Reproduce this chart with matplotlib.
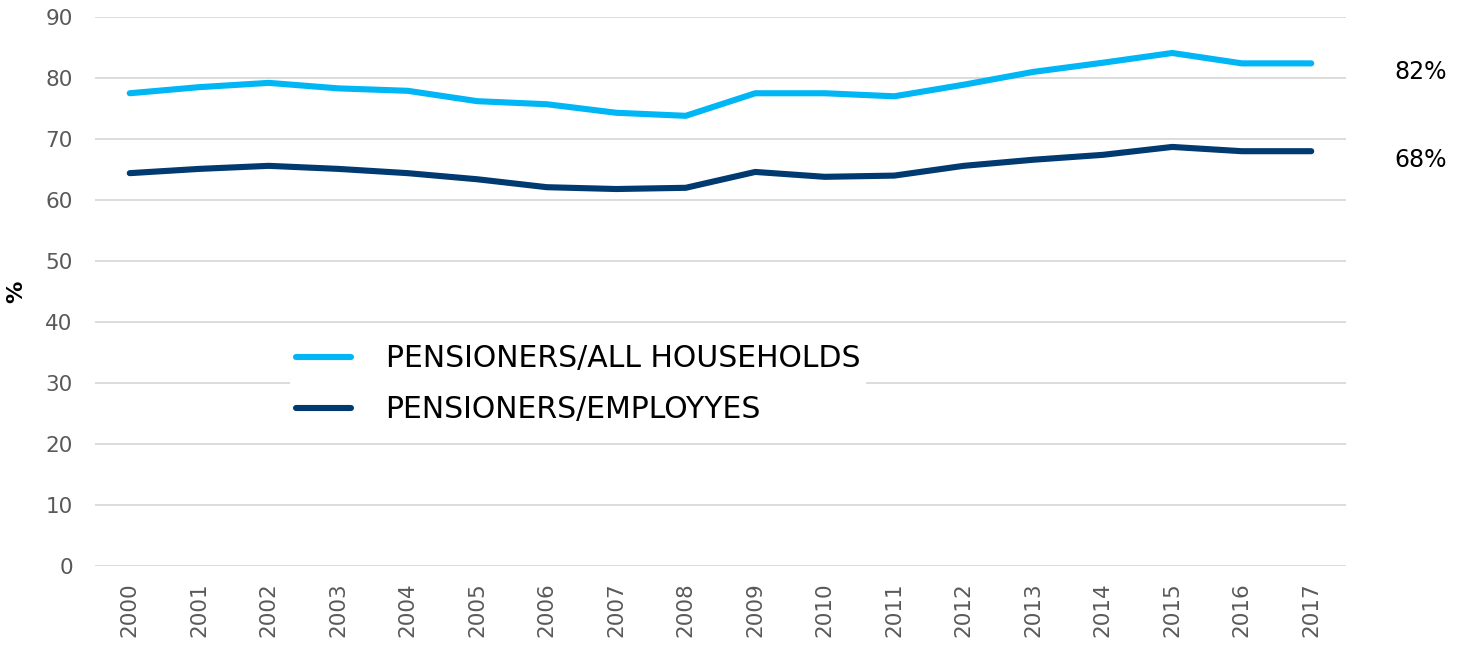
import matplotlib
matplotlib.use("Agg")
from matplotlib import pyplot as plt
import numpy as np

years = [str(y) for y in range(2000, 2018)]
all_households = [77.5, 78.5, 79.2, 78.3, 77.9, 76.2, 75.7, 74.3, 73.8,
                  77.5, 77.5, 77.0, 78.9, 81.0, 82.5, 84.1, 82.4, 82.4]
employees = [64.4, 65.1, 65.6, 65.1, 64.4, 63.4, 62.1, 61.8, 62.0,
             64.6, 63.8, 64.0, 65.6, 66.6, 67.4, 68.7, 68.0, 68.0]
labels = ["PENSIONERS/ALL HOUSEHOLDS", "PENSIONERS/EMPLOYYES"]
end_labels = ["82%", "68%"]
colors = ["#00b6f4", "#003a70"]

plt.rcParams['font.family'] = ['DejaVu Sans']

fig = plt.figure(figsize=(14.59, 6.49), dpi=100)
ax = fig.add_axes([95 / 1459, 1 - 566 / 649, (1346 - 95) / 1459, (566 - 17) / 649])

x = np.arange(len(years))
for serie, cor, lab in zip([all_households, employees], colors, labels):
    ax.plot(x, serie, color=cor, lw=4.4, solid_capstyle='round', label=lab)

ax.set_xlim(-0.5, len(years) - 0.5)
ax.set_ylim(0, 90)
ax.set_yticks(range(0, 91, 10))
ax.set_xticks(x)
ax.set_xticklabels(years, rotation=90)
ax.grid(axis='y', color='#d9d9d9', lw=1.3)
ax.set_axisbelow(True)
for s in ax.spines.values():
    s.set_visible(False)
ax.tick_params(length=0, colors='#595959', labelsize=15.5, pad=16)
ax.tick_params(axis='x', pad=12)
ax.set_ylabel('%', fontsize=16, fontweight='bold', color='black', labelpad=14)

# final values to the right of the plot
for serie, txt in zip([all_households, employees], end_labels):
    ax.annotate(txt, xy=(1, serie[-1]), xycoords=('axes fraction', 'data'),
                xytext=(35, -6), textcoords='offset points', va='center',
                fontsize=17, color='black')

leg = ax.legend(loc='upper left', bbox_to_anchor=((290 - 95) / 1251, (566 - 338) / 549),
                frameon=True, facecolor='white', edgecolor='none', framealpha=1,
                handlelength=1.85, handletextpad=1.15, labelspacing=0.75,
                borderpad=0.2, borderaxespad=0,
                prop={'family': ['Liberation Sans Narrow', 'DejaVu Sans'], 'size': 21.5})
for t in leg.get_texts():
    t.set_color('black')

fig.savefig('out.png', dpi=100)
